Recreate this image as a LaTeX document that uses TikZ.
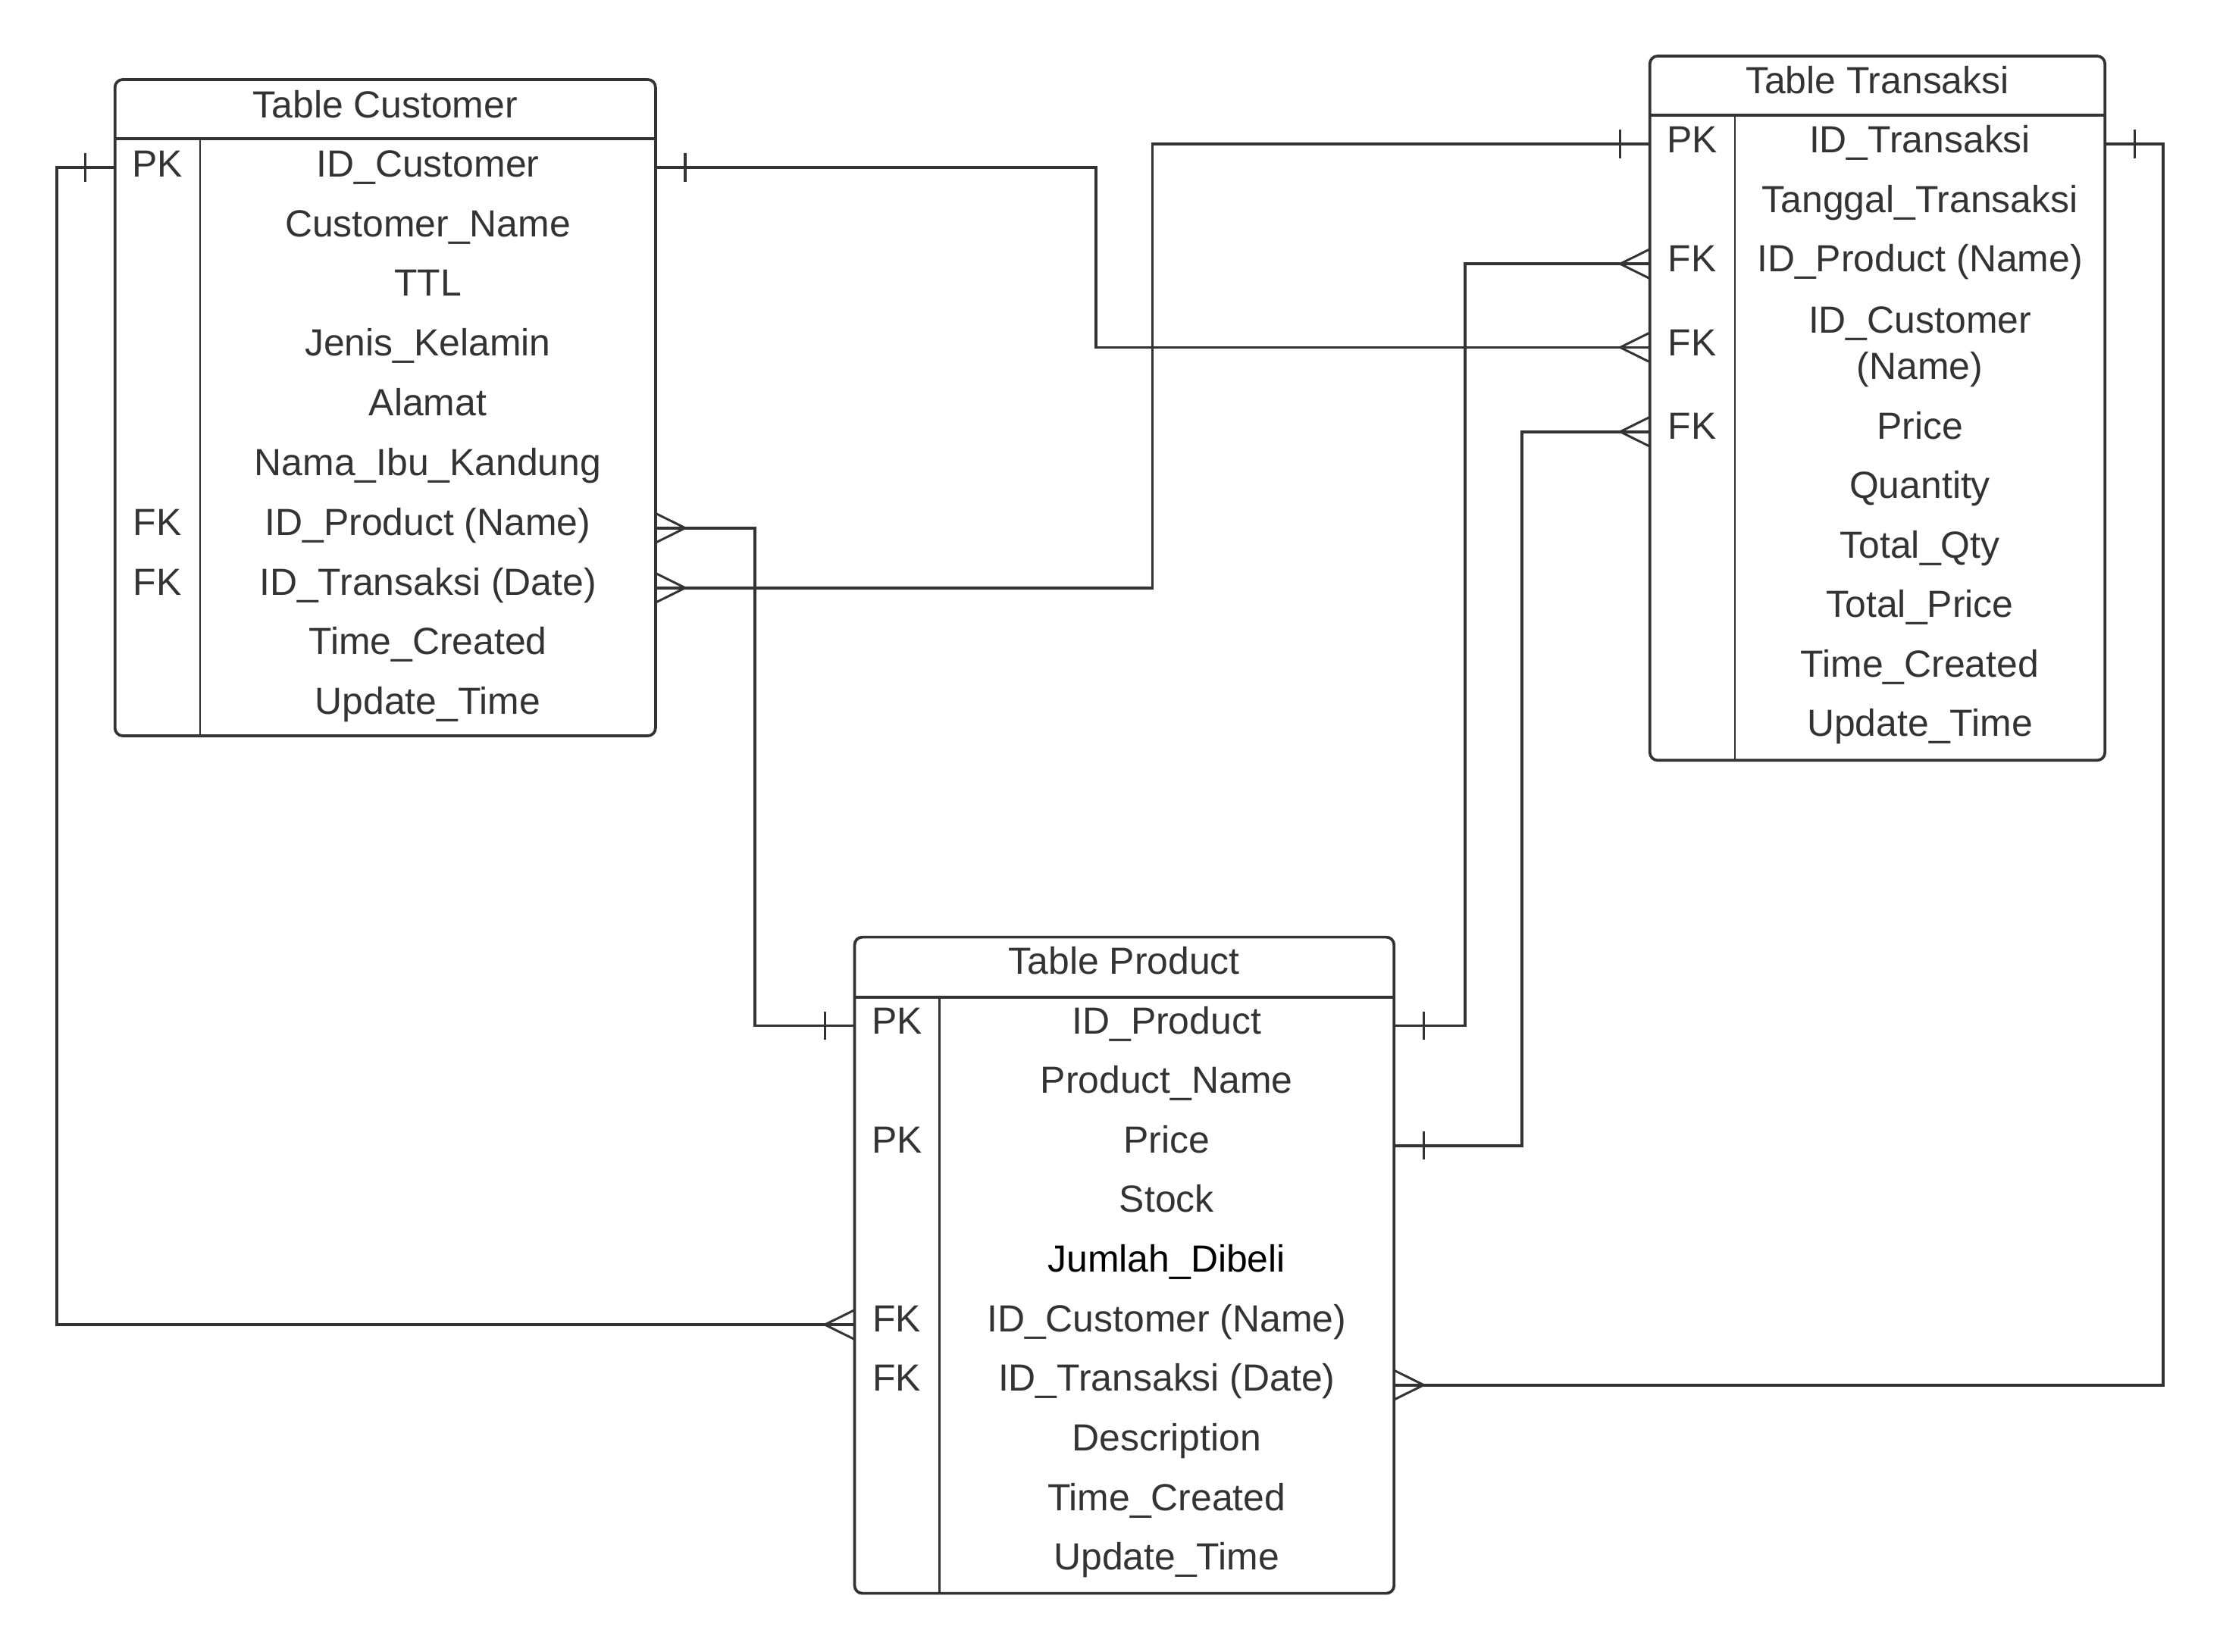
\documentclass[tikz,border=0pt]{standalone}
\usepackage{fontspec}
\setmainfont{Liberation Sans}
\definecolor{ink}{HTML}{333333}
\newcommand\onebar[2]{\draw[tickl] ([xshift=#2]#1) ++(0,10) -- ++(0,-20);}
\newcommand\crowft[2]{\draw[crowl] ([yshift=10.4pt]#1) -- ([xshift=#2]#1) -- ([yshift=-10.4pt]#1);}
\begin{document}
\begin{tikzpicture}[x=1pt,y=-1pt,
  every node/.style={font=\fontsize{26.7}{32.5}\selectfont, text=ink, inner sep=0pt, outer sep=0pt},
  tbl/.style={draw=ink, line width=2pt, rounded corners=5.5pt, rectangle, anchor=north west},
  fld/.style={anchor=base},
  sepl/.style={draw=ink, line width=2pt},
  divl/.style={draw=ink, line width=1.4pt},
  conn/.style={draw=ink, line width=2pt},
  crowl/.style={draw=ink, line width=1.6pt},
  tickl/.style={draw=ink, line width=1.9pt},
]
\useasboundingbox (0,0) rectangle (1568,1166.5);

% ---------- tables ----------
\node[tbl, minimum width=381.8pt, minimum height=463.6pt] (cust) at (81.2,56.2) {};
\node[tbl, minimum width=321.4pt, minimum height=497.5pt] (trans) at (1165.3,39.6) {};
\node[tbl, minimum width=381pt, minimum height=463.6pt] (prod) at (603.6,662) {};

\draw[sepl] (81.2,97.8) -- (463,97.8);
\draw[divl] (141.3,97.8) -- (141.3,519.8);
\draw[sepl] (1165.3,81.5) -- (1486.7,81.5);
\draw[divl] (1225.4,81.5) -- (1225.4,537.1);
\draw[sepl] (603.6,704.3) -- (984.6,704.3);
\draw[divl] (663.5,704.3) -- (663.5,1125.6);

% ---------- Table Customer ----------
\node[fld] (ctitle) at (272.1,83) {Table Customer};
\node[fld] (ck1) at (111.2,124.9) {PK};
\node[fld] (ck7) at (111.2,378.1) {FK};
\node[fld] (ck8) at (111.2,420.3) {FK};
\node[fld] (cf1) at (302.2,124.9) {ID\_Customer};
\node[fld] (cf2) at (302.2,167.1) {Customer\_Name};
\node[fld] (cf3) at (302.2,209.3) {TTL};
\node[fld] (cf4) at (302.2,251.5) {Jenis\_Kelamin};
\node[fld] (cf5) at (302.2,293.7) {Alamat};
\node[fld] (cf6) at (302.2,335.9) {Nama\_Ibu\_Kandung};
\node[fld] (cf7) at (302.2,378.1) {ID\_Product (Name)};
\node[fld] (cf8) at (302.2,420.3) {ID\_Transaksi (Date)};
\node[fld] (cf9) at (302.2,462.5) {Time\_Created};
\node[fld] (cf10) at (302.2,504.7) {Update\_Time};

% ---------- Table Transaksi ----------
\node[fld] (ttitle) at (1326,66) {Table Transaksi};
\node[fld] (tk1) at (1195.3,108) {PK};
\node[fld] (tk3) at (1195.3,192) {FK};
\node[fld] (tk4) at (1195.3,251.2) {FK};
\node[fld] (tk5) at (1195.3,310.2) {FK};
\node[fld] (tf1) at (1356,108) {ID\_Transaksi};
\node[fld] (tf2) at (1356,150) {Tanggal\_Transaksi};
\node[fld] (tf3) at (1356,192) {ID\_Product (Name)};
\node[fld] (tf4) at (1356,235.2) {\begin{tabular}[t]{@{}c@{}}ID\_Customer\\(Name)\end{tabular}};
\node[fld] (tf5) at (1356,310.2) {Price};
\node[fld] (tf6) at (1356,352.2) {Quantity};
\node[fld] (tf7) at (1356,394.2) {Total\_Qty};
\node[fld] (tf8) at (1356,436.2) {Total\_Price};
\node[fld] (tf9) at (1356,478.2) {Time\_Created};
\node[fld] (tf10) at (1356,520.2) {Update\_Time};

% ---------- Table Product ----------
\node[fld] (ptitle) at (794.1,688.4) {Table Product};
\node[fld] (pk1) at (633.5,730.2) {PK};
\node[fld] (pk3) at (633.5,814.4) {PK};
\node[fld] (pk6) at (633.5,940.7) {FK};
\node[fld] (pk7) at (633.5,982.8) {FK};
\node[fld] (pf1) at (824,730.2) {ID\_Product};
\node[fld] (pf2) at (824,772.3) {Product\_Name};
\node[fld] (pf3) at (824,814.4) {Price};
\node[fld] (pf4) at (824,856.5) {Stock};
\node[fld, text=black] (pf5) at (824,898.6) {Jumlah\_Dibeli};
\node[fld] (pf6) at (824,940.7) {ID\_Customer (Name)};
\node[fld] (pf7) at (824,982.8) {ID\_Transaksi (Date)};
\node[fld] (pf8) at (824,1024.9) {Description};
\node[fld] (pf9) at (824,1067) {Time\_Created};
\node[fld] (pf10) at (824,1109.1) {Update\_Time};

% ---------- ports ----------
\coordinate (cpkw) at (81.2,118.3);
\coordinate (cpke) at (463,118.3);
\coordinate (cfk1e) at (463,373);
\coordinate (cfk2e) at (463,415.3);
\coordinate (tpkw) at (1165.3,101.8);
\coordinate (tpke) at (1486.7,101.8);
\coordinate (tfk1w) at (1165.3,186.4);
\coordinate (tfk2w) at (1165.3,245.4);
\coordinate (tfk3w) at (1165.3,305);
\coordinate (ppkw) at (603.6,724.5);
\coordinate (ppke) at (984.6,724.5);
\coordinate (ppre) at (984.6,809.3);
\coordinate (pfk1w) at (603.6,935.8);
\coordinate (pfk2e) at (984.6,978.4);

% ---------- connectors ----------
\draw[conn] (cpkw) -- ++(-41.2,0) |- (pfk1w);
\onebar{cpkw}{-21pt}
\crowft{pfk1w}{-21pt}

\draw[conn] (cpke) -- ++(311,0) |- (tfk2w);
\onebar{cpke}{21pt}
\crowft{tfk2w}{-21pt}

\draw[conn] (cfk1e) -- ++(70,0) |- (ppkw);
\crowft{cfk1e}{21pt}
\onebar{ppkw}{-21pt}

\draw[conn] (cfk2e) -- ++(351,0) |- (tpkw);
\crowft{cfk2e}{21pt}
\onebar{tpkw}{-21pt}

\draw[conn] (tpke) -- ++(41.3,0) |- (pfk2e);
\onebar{tpke}{21pt}
\crowft{pfk2e}{21pt}

\draw[conn] (ppke) -- ++(50.1,0) |- (tfk1w);
\onebar{ppke}{21pt}
\crowft{tfk1w}{-21pt}

\draw[conn] (ppre) -- ++(90.4,0) |- (tfk3w);
\onebar{ppre}{21pt}
\crowft{tfk3w}{-21pt}
\end{tikzpicture}
\end{document}
